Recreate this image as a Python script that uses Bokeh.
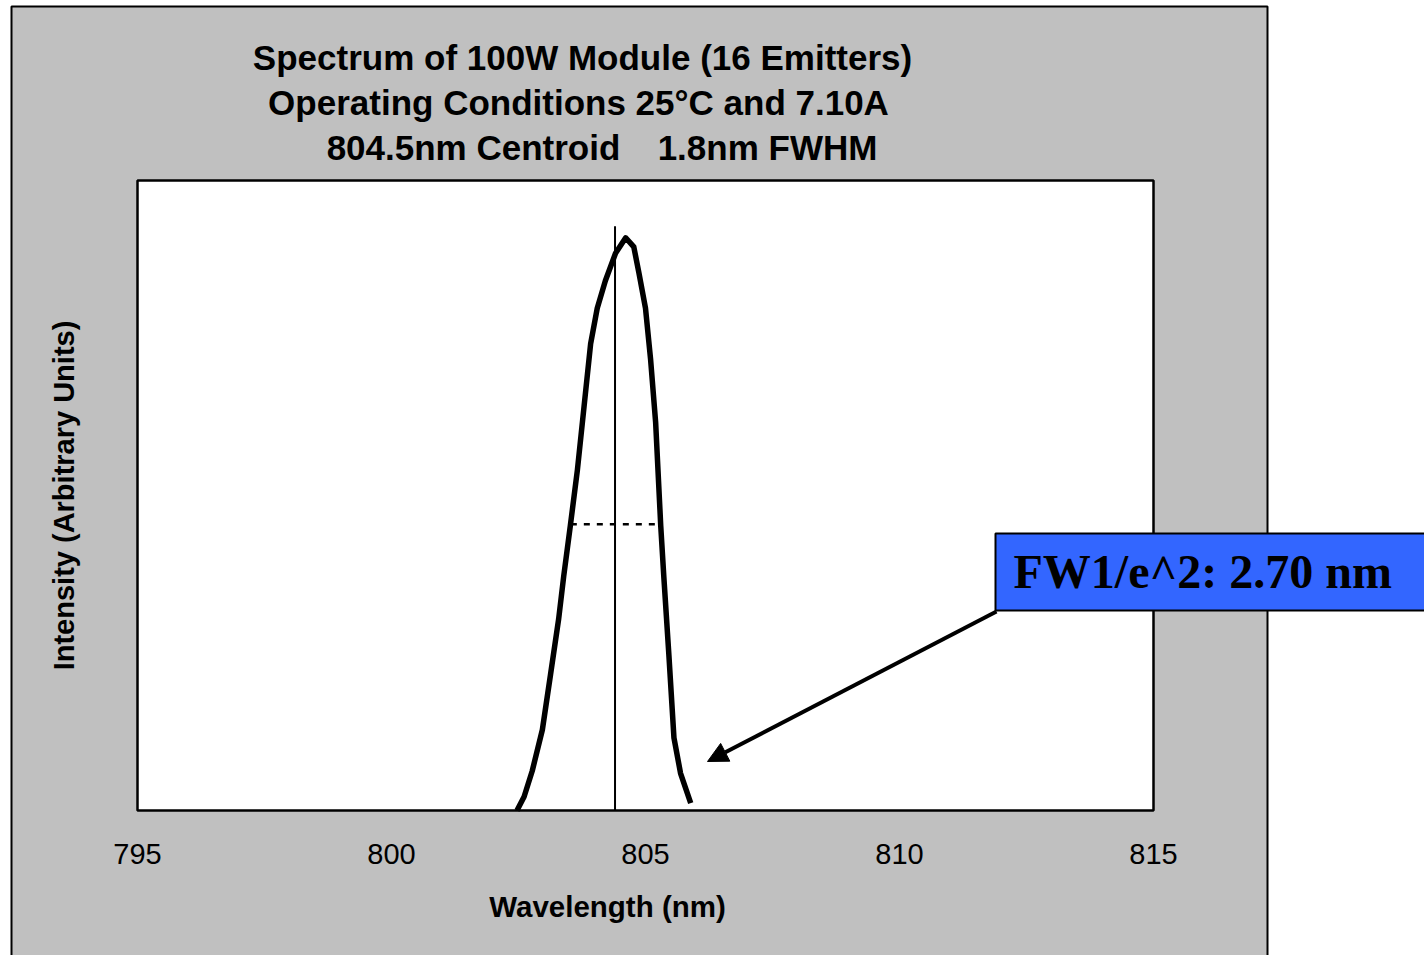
from bokeh.plotting import figure
from bokeh.models import BoxAnnotation, Label, Arrow, NormalHead, Range1d, FixedTicker
from bokeh.embed import file_html
from bokeh.resources import INLINE

# ---- data ----
wavelength = [802.47, 802.61, 802.77, 802.97, 803.13, 803.29, 803.39, 803.52, 803.66,
              803.79, 803.92, 804.05, 804.21, 804.41, 804.61, 804.77, 804.87, 805.00,
              805.10, 805.20, 805.30, 805.36, 805.46, 805.56, 805.69, 805.89]
intensity = [0.000, 0.024, 0.069, 0.141, 0.237, 0.334, 0.409, 0.497, 0.595,
             0.705, 0.815, 0.877, 0.925, 0.973, 1.000, 0.984, 0.939, 0.877,
             0.788, 0.677, 0.497, 0.409, 0.272, 0.127, 0.065, 0.013]
centroid_x = [804.4, 804.4]
centroid_y = [0.0, 1.02]
fwhm_x = [803.53, 805.26]
fwhm_y = [0.5, 0.5]
x_ticks = [795, 800, 805, 810, 815]
x_min, x_max = 795, 815
y_min, y_max = 0.0, 1.1

title_lines = ["Spectrum of 100W Module (16 Emitters)",
               "Operating Conditions 25°C and 7.10A"]
title_line3 = ["804.5nm Centroid", "1.8nm FWHM"]
x_title = "Wavelength (nm)"
y_title = "Intensity (Arbitrary Units)"
callout_text = "FW1/e^2: 2.70 nm"

# ---- layout constants (pixels) ----
W, H = 1424, 955
FL, FR, FT, FB = 137, 1153, 180, 810   # plot-area box in the page


def dx(px):
    return x_min + (px - FL) * (x_max - x_min) / (FR - FL)


def dy(py):
    return y_min + (FB - py) * (y_max - y_min) / (FB - FT)


p = figure(width=W, height=H, output_backend="svg", toolbar_location=None,
           x_range=Range1d(dx(0), dx(W)), y_range=Range1d(dy(H), dy(0)),
           y_axis_location=None,
           min_border_left=0, min_border_right=0,
           min_border_top=0, min_border_bottom=0)
p.border_fill_color = "#C0C0C0"
p.background_fill_color = "white"
p.outline_line_color = None
p.grid.visible = False

# white page around the gray panel
p.add_layout(BoxAnnotation(left=dx(-50), right=dx(W + 50), top=dy(-50), bottom=dy(H + 50),
                           fill_color="white", fill_alpha=1.0, line_color=None,
                           level="underlay"))
# gray outer panel
p.add_layout(BoxAnnotation(left=dx(11), right=dx(1267), top=dy(6), bottom=dy(H + 40),
                           fill_color="#C0C0C0", fill_alpha=1.0,
                           line_color="black", line_alpha=1.0, line_width=2,
                           level="underlay"))
# white plot area
p.add_layout(BoxAnnotation(left=x_min, right=x_max, bottom=y_min, top=y_max,
                           fill_color="white", fill_alpha=1.0,
                           line_color="black", line_alpha=1.0, line_width=2.5,
                           level="underlay"))

ax = p.xaxis[0]
ax.fixed_location = y_min
ax.ticker = FixedTicker(ticks=x_ticks)
ax.axis_line_color = None
ax.major_tick_line_color = None
ax.minor_tick_line_color = None
ax.major_tick_out = 0
ax.major_tick_in = 0
ax.major_label_standoff = 33
ax.major_label_text_font = "Liberation Sans"
ax.major_label_text_font_size = "29px"
ax.major_label_text_color = "black"

# data marks
p.line(wavelength, intensity, line_width=5.5, line_color="black", line_join="round")
p.line(centroid_x, centroid_y, line_width=2, line_color="black")
p.line(fwhm_x, fwhm_y, line_width=2.5, line_color="black", line_dash="6 7")

# titles
title_centers = [582, 578]
title_baselines = [57, 102]
for t, cx, by in zip(title_lines, title_centers, title_baselines):
    p.add_layout(Label(x=dx(cx), y=dy(by), text=t, text_align="center",
                       text_baseline="alphabetic", text_font="Liberation Sans",
                       text_font_style="bold", text_font_size="35px", text_color="black"))
for t, cx in zip(title_line3, [473, 767]):
    p.add_layout(Label(x=dx(cx), y=dy(147), text=t, text_align="center",
                       text_baseline="alphabetic", text_font="Liberation Sans",
                       text_font_style="bold", text_font_size="35px", text_color="black"))

# axis titles
p.add_layout(Label(x=dx(607), y=dy(906), text=x_title, text_align="center",
                   text_baseline="alphabetic", text_font="Liberation Sans",
                   text_font_style="bold", text_font_size="29.5px", text_color="black"))
p.add_layout(Label(x=dx(63), y=dy(495), text=y_title, text_align="center",
                   text_baseline="alphabetic", angle=1.5707963, text_font="Liberation Sans",
                   text_font_style="bold", text_font_size="29px", text_color="black"))

# callout arrow and box
p.add_layout(Arrow(end=NormalHead(size=20, fill_color="black", line_color="black"),
                   x_start=dx(996), y_start=dy(611), x_end=dx(707), y_end=dy(761),
                   line_width=4, line_color="black"))
p.add_layout(BoxAnnotation(left=dx(995), right=dx(W + 40), top=dy(533), bottom=dy(610),
                           fill_color="#3366FF", fill_alpha=1.0,
                           line_color="black", line_alpha=1.0, line_width=2,
                           level="overlay"))
p.add_layout(Label(x=dx(1013), y=dy(571), text=callout_text, text_align="left",
                   text_baseline="alphabetic", text_font="Liberation Serif",
                   text_font_style="bold", text_font_size="48px", text_color="black",
                   level="overlay"))

open("out.html", "w").write(file_html(p, INLINE))
